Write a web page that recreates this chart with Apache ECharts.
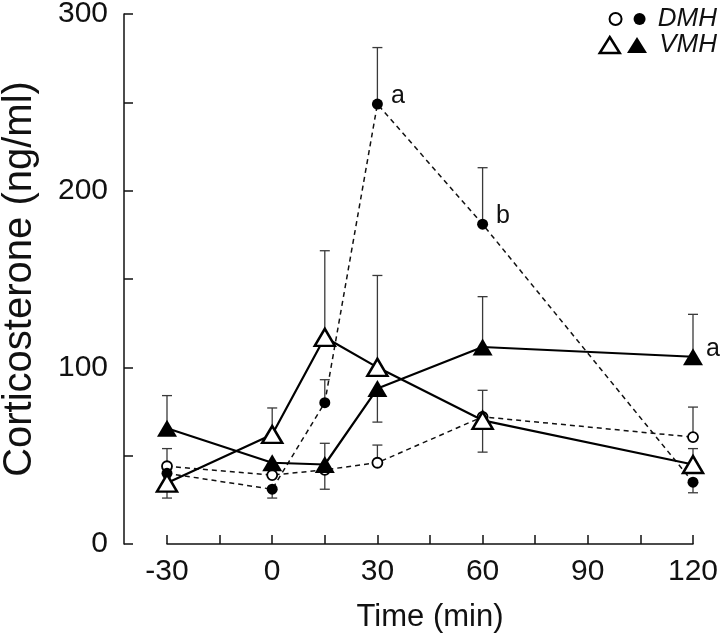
<!DOCTYPE html>
<html>
<head>
<meta charset="utf-8">
<script src="https://cdn.jsdelivr.net/npm/echarts@6/dist/echarts.min.js"></script>
<style>html,body{margin:0;padding:0;background:#fff;}#c{width:720px;height:643px;}</style>
</head>
<body>
<div id="c"></div>
<script>
// Time points (min)
var time = [-30, 0, 15, 30, 60, 120];
// DMH (circles, dashed line)
var dmhOpen = [44, 39, 42, 46, 72, 60.5];
var dmhOpenErr = [54, null, 31, 56, 87, 77.5];
var dmhFilled = [40, 31, 80, 249, 181, 35];
var dmhFilledErr = [null, 26, 93, 281, 213, 29];
var dmhFilledLabels = ['', '', '', 'a', 'b', ''];
// VMH (triangles, solid line)
var vmhOpen = [34.5, 62, 117, 100, 70, 45];
var vmhOpenErr = [26, 77, 166, 152, 52, 54];
var vmhFilled = [65.5, 46, 45, 88, 111.5, 106];
var vmhFilledErr = [84, null, 57, 69, 140, 130];
var vmhFilledLabels = ['', '', '', '', '', 'a'];
// Axis ticks
var yTicks = [0, 100, 200, 300];
var xTicks = [-30, 0, 30, 60, 90, 120];

var FONT = 'Liberation Sans, Arial, Helvetica, sans-serif';

function pairs(vals) { return time.map(function (t, i) { return [t, vals[i]]; }); }
function errData(vals, errs) {
  var out = [];
  time.forEach(function (t, i) { if (errs[i] !== null) out.push([t, vals[i], errs[i]]); });
  return out;
}
function errSeries(vals, errs) {
  return {
    type: 'custom',
    silent: true,
    z: 1,
    data: errData(vals, errs),
    encode: { x: 0, y: [1, 2] },
    renderItem: function (params, api) {
      var a = api.coord([api.value(0), api.value(1)]);
      var b = api.coord([api.value(0), api.value(2)]);
      var st = { stroke: '#3a3a3a', lineWidth: 1.3 };
      return {
        type: 'group',
        children: [
          { type: 'line', shape: { x1: a[0], y1: a[1], x2: b[0], y2: b[1] }, style: st },
          { type: 'line', shape: { x1: b[0] - 5, y1: b[1], x2: b[0] + 5, y2: b[1] }, style: st }
        ]
      };
    }
  };
}
function labelFor(arr, dist) {
  return {
    show: true, position: 'right', distance: dist, offset: [0, -8],
    fontFamily: FONT, fontSize: 25, color: '#111',
    formatter: function (p) { return arr[p.dataIndex]; }
  };
}
var legendText = { fontFamily: FONT, fontSize: 26, fontStyle: 'italic', color: '#111' };

var chart = echarts.init(document.getElementById('c'));
chart.setOption({
  backgroundColor: '#fff',
  animation: false,
  grid: { left: 167, right: 27, top: 14, bottom: 99, containLabel: false, outerBoundsMode: 'none' },
  legend: [
    {
      right: 3, top: 6, padding: 0, itemWidth: 12, itemHeight: 12, itemGap: 11,
      selectedMode: false,
      textStyle: legendText,
      formatter: function (n) { return n === 'DMH-o' ? '' : ' DMH'; },
      data: [
        { name: 'DMH-o', icon: 'circle', itemStyle: { color: '#fff', borderColor: '#000', borderWidth: 2 } },
        { name: 'DMH', icon: 'circle', itemStyle: { color: '#000', borderWidth: 0 } }
      ]
    },
    {
      right: 3, top: 32, padding: 0, itemWidth: 20, itemHeight: 16, itemGap: 6,
      selectedMode: false,
      textStyle: legendText,
      formatter: function (n) { return n === 'VMH-o' ? '' : ' VMH'; },
      data: [
        { name: 'VMH-o', icon: 'triangle', itemStyle: { color: '#fff', borderColor: '#000', borderWidth: 2.5 } },
        { name: 'VMH', icon: 'triangle', itemStyle: { color: '#000', borderWidth: 0 } }
      ]
    }
  ],
  xAxis: {
    type: 'value', min: -30, max: 120, interval: 15,
    name: 'Time (min)', nameLocation: 'middle', nameGap: 58,
    nameTextStyle: { fontFamily: FONT, fontSize: 31, color: '#111' },
    axisLine: { show: true, onZero: false, lineStyle: { color: '#111', width: 1.5 } },
    axisTick: { show: true, inside: true, length: 9, lineStyle: { color: '#111', width: 1.5 } },
    axisLabel: {
      fontFamily: FONT, fontSize: 30, color: '#111', margin: 13,
      formatter: function (v) { return xTicks.indexOf(v) >= 0 ? String(v) : ''; }
    },
    splitLine: { show: false }
  },
  yAxis: {
    type: 'value', min: 0, max: 300, interval: 50, offset: 43,
    name: 'Corticosterone (ng/ml)', nameLocation: 'middle', nameGap: 84, nameRotate: 90,
    nameTextStyle: { fontFamily: FONT, fontSize: 40, color: '#111' },
    axisLine: { show: true, onZero: false, lineStyle: { color: '#111', width: 1.5 } },
    axisTick: { show: true, inside: true, length: 9, lineStyle: { color: '#111', width: 1.5 } },
    axisLabel: {
      fontFamily: FONT, fontSize: 30, color: '#111', margin: 16,
      formatter: function (v) { return yTicks.indexOf(v) >= 0 ? String(v) : ''; }
    },
    splitLine: { show: false }
  },
  series: [
    errSeries(dmhOpen, dmhOpenErr),
    errSeries(dmhFilled, dmhFilledErr),
    errSeries(vmhOpen, vmhOpenErr),
    errSeries(vmhFilled, vmhFilledErr),
    {
      name: 'DMH-o', type: 'line', data: pairs(dmhOpen), z: 3,
      symbol: 'circle', symbolSize: 10,
      lineStyle: { color: '#111', width: 1.5, type: [5, 4] },
      itemStyle: { color: '#fff', borderColor: '#000', borderWidth: 1.8 }
    },
    {
      name: 'DMH', type: 'line', data: pairs(dmhFilled), z: 3,
      symbol: 'circle', symbolSize: 11,
      lineStyle: { color: '#111', width: 1.5, type: [5, 4] },
      itemStyle: { color: '#000', borderWidth: 0 },
      label: labelFor(dmhFilledLabels, 8)
    },
    {
      name: 'VMH-o', type: 'line', data: pairs(vmhOpen), z: 4,
      symbol: 'triangle', symbolSize: [20, 17],
      lineStyle: { color: '#000', width: 2.2 },
      itemStyle: { color: '#fff', borderColor: '#000', borderWidth: 2.5 }
    },
    {
      name: 'VMH', type: 'line', data: pairs(vmhFilled), z: 4,
      symbol: 'triangle', symbolSize: [20, 17],
      lineStyle: { color: '#000', width: 2.2 },
      itemStyle: { color: '#000', borderWidth: 0 },
      label: labelFor(vmhFilledLabels, 3)
    }
  ]
});
</script>
</body>
</html>
